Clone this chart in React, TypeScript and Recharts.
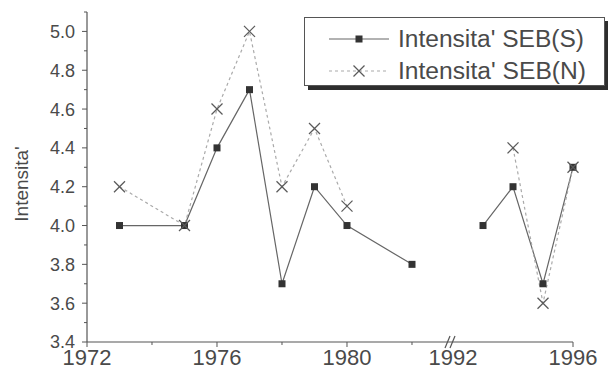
import React from 'react';
import { ComposedChart, Line, XAxis, YAxis } from 'recharts';

// years before and after the axis break
const yearsEarly = [1973, 1975, 1976, 1977, 1978, 1979, 1980, 1982];
const yearsLate = [1993, 1994, 1995, 1996];

const sebSEarly = [4.0, 4.0, 4.4, 4.7, 3.7, 4.2, 4.0, 3.8];
const sebNEarly = [4.2, 4.0, 4.6, 5.0, 4.2, 4.5, 4.1, null];
const sebSLate = [4.0, 4.2, 3.7, 4.3];
const sebNLate = [null, 4.4, 3.6, 4.3];

const majorYears = [1972, 1976, 1980, 1992, 1996];
const minorYears = [1974, 1978, 1982];
const majorValues = [3.4, 3.6, 3.8, 4.0, 4.2, 4.4, 4.6, 4.8, 5.0];
const minorValues = [3.5, 3.7, 3.9, 4.1, 4.3, 4.5, 4.7, 4.9, 5.1];

const FONT = "'Liberation Sans', Arial, sans-serif";
const INK = '#4a4a4a';

// broken axis: 1992 sits right after 1983, late years are a bit narrower
const BREAK_POS = 1983.262;
const LATE_RATE = 0.923;
const pos = (yr: number) => (yr < 1990 ? yr : BREAK_POS + (yr - 1992) * LATE_RATE);

const rows = [
  ...yearsEarly.map((yr, i) => ({ x: pos(yr), s: sebSEarly[i], n: sebNEarly[i] })),
  { x: (pos(1982) + pos(1993)) / 2, s: null, n: null },
  ...yearsLate.map((yr, i) => ({ x: pos(yr), s: sebSLate[i], n: sebNLate[i] })),
];

const yearByPos = new Map([...majorYears, ...minorYears].map((yr) => [pos(yr).toFixed(3), yr]));

const SquareDot = (props: any) => {
  const { cx, cy, value } = props;
  if (value == null || cx == null || cy == null) return null;
  return <rect x={cx - 3.5} y={cy - 3.5} width={7} height={7} fill="#333" />;
};

const CrossDot = (props: any) => {
  const { cx, cy, value } = props;
  if (value == null || cx == null || cy == null) return null;
  return (
    <g stroke="#5a5a5a" strokeWidth={1.3}>
      <line x1={cx - 5.5} y1={cy - 5.5} x2={cx + 5.5} y2={cy + 5.5} />
      <line x1={cx - 5.5} y1={cy + 5.5} x2={cx + 5.5} y2={cy - 5.5} />
    </g>
  );
};

const renderYearTick = (props: any) => {
  const { x, y, payload } = props;
  const yr = yearByPos.get(Number(payload.value).toFixed(3));
  const major = majorYears.includes(yr as number);
  return (
    <g>
      {yr === 1992 ? (
        <g stroke="#555" strokeWidth={1.2}>
          <line x1={x - 8} y1={y + 6} x2={x - 3} y2={y - 6} />
          <line x1={x - 3} y1={y + 6} x2={x + 2} y2={y - 6} />
        </g>
      ) : (
        <line x1={x} y1={y} x2={x} y2={y + (major ? 5 : 3)} stroke="#555" />
      )}
      {major && (
        <text x={x} y={y + 23} textAnchor="middle" fontSize={22} fontFamily={FONT} fill={INK}>
          {yr}
        </text>
      )}
    </g>
  );
};

const renderValueTick = (props: any) => {
  const { x, y, payload } = props;
  const v = Number(payload.value);
  const major = majorValues.some((m) => Math.abs(m - v) < 1e-6);
  return (
    <g>
      <line x1={x - (major ? 5 : 3)} y1={y} x2={x} y2={y} stroke="#555" />
      {major && (
        <text x={x - 12} y={y} dy="0.36em" textAnchor="end" fontSize={18} fontFamily={FONT} fill={INK}>
          {v.toFixed(1)}
        </text>
      )}
    </g>
  );
};

const YTitle = (props: any) => {
  const vb = props.viewBox || { x: 0, y: 12, height: 330 };
  const cx = vb.x + 21;
  const cy = vb.y + vb.height / 2 + 7;
  return (
    <text
      x={cx}
      y={cy}
      transform={`rotate(-90 ${cx} ${cy})`}
      textAnchor="middle"
      dy="0.36em"
      fontSize={19}
      fontFamily={FONT}
      fill={INK}
    >
      Intensita'
    </text>
  );
};

const ChartLegend = () => (
  <div
    style={{
      position: 'absolute',
      left: 304,
      top: 17,
      width: 299,
      height: 67,
      border: '1px solid #555',
      boxShadow: '4px 4px 0 #2e2e2e',
      background: '#fff',
    }}
  >
    <svg width={299} height={67}>
      <line x1={24} y1={21} x2={84} y2={21} stroke="#666" strokeWidth={1.2} />
      <rect x={50.5} y={17.5} width={7} height={7} fill="#333" />
      <text x={93} y={29} fontSize={23} fontFamily={FONT} fill={INK} textLength={186} lengthAdjust="spacingAndGlyphs">
        Intensita' SEB(S)
      </text>
      <line x1={24} y1={53} x2={84} y2={53} stroke="#aaa" strokeWidth={1.2} strokeDasharray="3 3" />
      <g stroke="#5a5a5a" strokeWidth={1.3}>
        <line x1={48.5} y1={47.5} x2={59.5} y2={58.5} />
        <line x1={48.5} y1={58.5} x2={59.5} y2={47.5} />
      </g>
      <text x={93} y={61} fontSize={23} fontFamily={FONT} fill={INK} textLength={188} lengthAdjust="spacingAndGlyphs">
        Intensita' SEB(N)
      </text>
    </svg>
  </div>
);

export default function App() {
  return (
    <div style={{ position: 'absolute', left: 0, top: 0, width: 608, height: 371, background: '#fff' }}>
      <ComposedChart width={608} height={371} data={rows} margin={{ top: 12, right: 35, bottom: 0, left: 0 }}>
        <XAxis
          dataKey="x"
          type="number"
          domain={[1972, pos(1996)]}
          ticks={[...majorYears, ...minorYears].map(pos)}
          interval={0}
          height={29}
          tickSize={0}
          tickMargin={0}
          tickLine={false}
          axisLine={{ stroke: '#555', strokeWidth: 1.2 }}
          tick={renderYearTick}
        />
        <YAxis
          type="number"
          domain={[3.4, 5.1]}
          ticks={[...majorValues, ...minorValues]}
          interval={0}
          width={87}
          tickSize={0}
          tickMargin={0}
          tickLine={false}
          axisLine={{ stroke: '#555', strokeWidth: 1.2 }}
          tick={renderValueTick}
          label={<YTitle />}
        />
        <Line
          type="linear"
          dataKey="s"
          stroke="#666"
          strokeWidth={1.2}
          dot={<SquareDot />}
          activeDot={false}
          connectNulls={false}
          isAnimationActive={false}
        />
        <Line
          type="linear"
          dataKey="n"
          stroke="#aaa"
          strokeWidth={1.2}
          strokeDasharray="3 3"
          dot={<CrossDot />}
          activeDot={false}
          connectNulls={false}
          isAnimationActive={false}
        />
      </ComposedChart>
      <ChartLegend />
    </div>
  );
}
